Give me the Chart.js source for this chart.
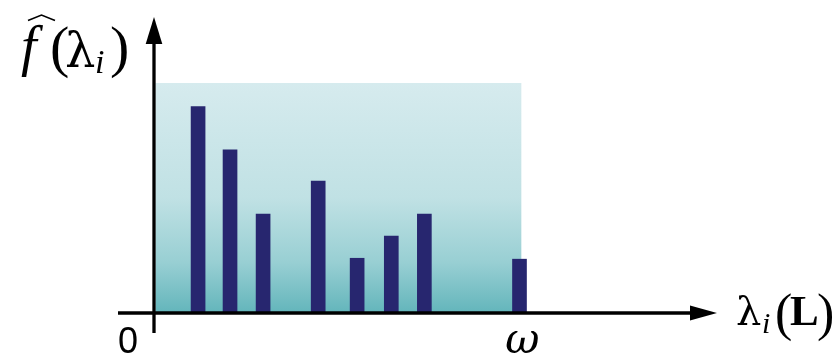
<!DOCTYPE html>
<html>
<head>
<meta charset="utf-8">
<script src="https://cdn.jsdelivr.net/npm/chart.js@4/dist/chart.umd.min.js"></script>
<style>
  html, body { margin: 0; padding: 0; background: #fff; }
  #wrap { width: 834px; height: 354px; position: relative; }
</style>
</head>
<body>
<div id="wrap"><canvas id="chart"></canvas></div>
<script>
// eigenvalue positions (x) and spectral magnitudes (y)
const positions = [1.2, 2.07, 2.97, 4.47, 5.53, 6.46, 7.36, 9.95];
const magnitudes = [8.97, 7.09, 4.30, 5.74, 2.38, 3.34, 4.30, 2.34];
const omega = 10;      // band limit on the x axis
const bound = 10;      // height of the shaded band
const tickLabels = ['0', '\u03c9'];

const points = positions.map((x, i) => ({ x: x, y: magnitudes[i] }));

const SERIF = '"Liberation Serif"';
const GREEK = '"DejaVu Serif"';

function arrow(ctx, x1, y1, x2, y2, head, half) {
    const dx = x2 - x1, dy = y2 - y1;
    const len = Math.hypot(dx, dy);
    const ux = dx / len, uy = dy / len;
    const bx = x2 - ux * head, by = y2 - uy * head;
    ctx.beginPath();
    ctx.moveTo(x1, y1);
    ctx.lineTo(bx, by);
    ctx.stroke();
    ctx.beginPath();
    ctx.moveTo(x2, y2);
    ctx.lineTo(bx - uy * half, by + ux * half);
    ctx.lineTo(bx + uy * half, by - ux * half);
    ctx.closePath();
    ctx.fill();
}

// glyphs: [text, font, x, baseline]
function glyphs(ctx, list) {
    list.forEach(g => {
        ctx.font = g[1];
        ctx.fillText(g[0], g[2], g[3]);
    });
}

const bandPlugin = {
    id: 'band',
    beforeDatasetsDraw(chart) {
        const ctx = chart.ctx;
        const xs = chart.scales.x, ys = chart.scales.y;
        const x0 = xs.getPixelForValue(0), x1 = xs.getPixelForValue(omega);
        const y0 = ys.getPixelForValue(0), y1 = ys.getPixelForValue(bound);
        const g = ctx.createLinearGradient(0, y1, 0, y0);
        g.addColorStop(0, '#d6ebee');
        g.addColorStop(0.5, '#c0e1e4');
        g.addColorStop(0.78, '#98cfd3');
        g.addColorStop(1, '#63b5bb');
        ctx.save();
        ctx.fillStyle = g;
        ctx.fillRect(x0 + 1.5, y1, x1 - x0 - 1.5, y0 - y1);
        ctx.restore();
    },
    afterDatasetsDraw(chart) {
        const ctx = chart.ctx;
        const xs = chart.scales.x, ys = chart.scales.y;
        const x0 = xs.getPixelForValue(0), y0 = ys.getPixelForValue(0);
        ctx.save();
        ctx.strokeStyle = '#000';
        ctx.fillStyle = '#000';
        ctx.lineWidth = 3.3;
        arrow(ctx, x0, y0 + 20, x0, 17, 27, 8.3);
        arrow(ctx, 118, y0, 717, y0, 27, 7.5);

        ctx.textBaseline = 'alphabetic';
        ctx.textAlign = 'left';
        ctx.font = '36px "Liberation Sans"';
        ctx.fillText(tickLabels[0], 118, 353);
        ctx.textAlign = 'center';
        ctx.font = 'italic 42px ' + GREEK;
        ctx.fillText(tickLabels[1], xs.getPixelForValue(omega) + 1, 353);

        ctx.textAlign = 'left';
        // y axis title: f-hat(lambda_i)
        glyphs(ctx, [
            ['f', 'italic 56px ' + SERIF, 21, 65],
            ['(', '58px ' + SERIF, 50, 66],
            ['\u03bb', '48px ' + GREEK, 65, 67],
            ['i', 'italic 34px ' + SERIF, 95, 73],
            [')', '58px ' + SERIF, 110, 66]
        ]);
        ctx.lineWidth = 1.6;
        ctx.beginPath();
        ctx.moveTo(28, 20.5);
        ctx.lineTo(41.5, 15);
        ctx.lineTo(55, 20.5);
        ctx.stroke();

        // x axis title: lambda_i(L)
        glyphs(ctx, [
            ['\u03bb', '40px ' + GREEK, 736, 325],
            ['i', 'italic 30px ' + SERIF, 762, 333],
            ['(', '52px ' + SERIF, 775, 330],
            ['L', 'bold 43px ' + SERIF, 790, 325],
            [')', '52px ' + SERIF, 817, 330]
        ]);
        ctx.restore();
    }
};

new Chart(document.getElementById('chart'), {
    type: 'bar',
    data: {
        datasets: [{
            data: points,
            backgroundColor: '#27266f',
            borderWidth: 0,
            barThickness: 14,
            grouped: false
        }]
    },
    options: {
        responsive: true,
        maintainAspectRatio: false,
        animation: false,
        layout: { padding: { left: 154, right: 129, top: 37, bottom: 41 } },
        plugins: {
            legend: { display: false },
            tooltip: { enabled: false }
        },
        scales: {
            x: { type: 'linear', min: 0, max: 15, offset: false, display: false },
            y: { min: 0, max: 12, display: false }
        }
    },
    plugins: [bandPlugin]
});
</script>
</body>
</html>
